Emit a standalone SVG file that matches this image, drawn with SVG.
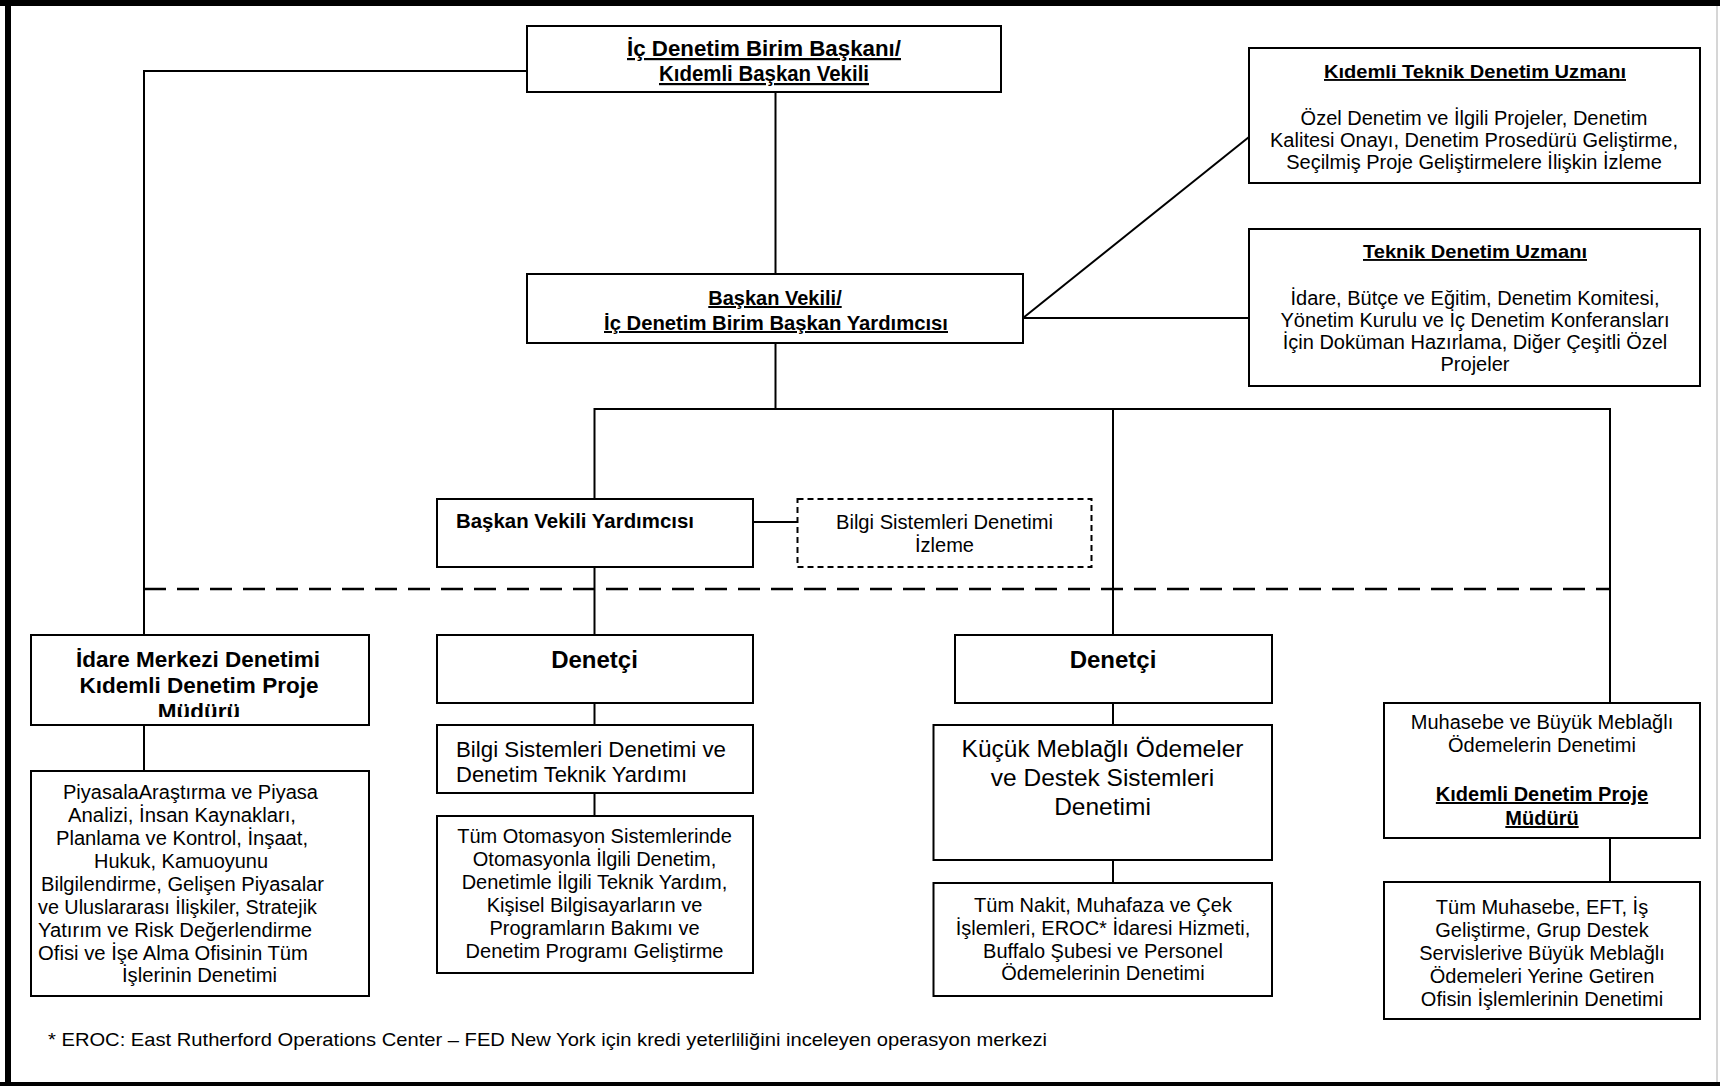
<svg xmlns="http://www.w3.org/2000/svg" width="1720" height="1086" viewBox="0 0 1720 1086">
  <style>
    .box { fill: #fff; stroke: #000; stroke-width: 2; }
    .dbox { fill: #fff; stroke: #000; stroke-width: 2; stroke-dasharray: 6 4; }
    .ln { fill: none; stroke: #000; stroke-width: 2; }
    .dash { fill: none; stroke: #000; stroke-width: 2.5; stroke-dasharray: 22 11; }
    text { fill: #000; font-size: 20px; }
    .r { font-family: "Liberation Sans", Arial, sans-serif; }
    .b { font-family: "Liberation Sans", Arial, sans-serif; font-weight: bold; }
    .nb { font-family: "Liberation Sans Narrow", "Liberation Sans", Arial, sans-serif; font-weight: bold; }
    .nr { font-family: "Liberation Sans Narrow", "Liberation Sans", Arial, sans-serif; }
    .c { text-anchor: middle; }
    .u { text-decoration: underline; }
  </style>
  <defs>
    <clipPath id="clipIdare">
      <rect x="31" y="636" width="338" height="81"/>
    </clipPath>
  </defs>

  <rect width="1720" height="1086" fill="#fff"/>
  <!-- page frame -->
  <g id="frame">
    <rect x="0" y="0" width="1720" height="6" fill="#000"/>
    <rect x="5" y="0" width="6" height="1086" fill="#000"/>
    <rect x="0" y="1082" width="1720" height="4" fill="#000"/>
    <line x1="1717" y1="6" x2="1717" y2="1082" stroke="#c8c8c8" stroke-width="1.5"/>
  </g>

  <!-- connectors -->
  <g id="connectors">
    <path class="ln" d="M527 71 H144 V635"/>
    <path class="ln" d="M775.5 92 V274"/>
    <path class="ln" d="M775.5 343 V409"/>
    <path class="ln" d="M594.5 499 V409 H1610 V703"/>
    <path class="ln" d="M1113 409 V635"/>
    <path class="ln" d="M1023 318 L1249 137"/>
    <path class="ln" d="M1023 318 H1249"/>
    <path class="ln" d="M753 522 H797.5"/>
    <path class="ln" d="M594.5 567 V635"/>
    <path class="ln" d="M594.5 703 V725"/>
    <path class="ln" d="M594.5 793 V816"/>
    <path class="ln" d="M1113 703 V725"/>
    <path class="ln" d="M1113 860 V883"/>
    <path class="ln" d="M144 725 V771"/>
    <path class="ln" d="M1610 838 V882"/>
    <path class="dash" d="M144 589 H1610"/>
  </g>

  <!-- head of unit -->
  <g id="head">
    <rect class="box" x="527" y="26" width="474" height="66"/>
    <text class="nb c u" x="764" y="56" style="font-size:22px" textLength="274" lengthAdjust="spacingAndGlyphs">İç Denetim Birim Başkanı/</text>
    <text class="nb c u" x="764" y="81" style="font-size:22px" textLength="210" lengthAdjust="spacingAndGlyphs">Kıdemli Başkan Vekili</text>
  </g>

  <!-- deputy head -->
  <g id="deputy">
    <rect class="box" x="527" y="274" width="496" height="69"/>
    <text class="b c u" x="775" y="305">Başkan Vekili/</text>
    <text class="b c u" x="776" y="330" textLength="344" lengthAdjust="spacingAndGlyphs">İç Denetim Birim Başkan Yardımcısı</text>
  </g>

  <!-- senior technical audit specialist -->
  <g id="senior-tech">
    <rect class="box" x="1249" y="48" width="451" height="135"/>
    <text class="b c u" x="1475" y="78" style="font-size:19px" textLength="302" lengthAdjust="spacingAndGlyphs">Kıdemli Teknik Denetim Uzmanı</text>
    <text class="r c" x="1474" y="125">Özel Denetim ve İlgili Projeler, Denetim</text>
    <text class="r c" x="1474" y="147">Kalitesi Onayı, Denetim Prosedürü Geliştirme,</text>
    <text class="r c" x="1474" y="169">Seçilmiş Proje Geliştirmelere İlişkin İzleme</text>
  </g>

  <!-- technical audit specialist -->
  <g id="tech">
    <rect class="box" x="1249" y="229" width="451" height="157"/>
    <text class="b c u" x="1475" y="258" style="font-size:19px" textLength="224" lengthAdjust="spacingAndGlyphs">Teknik Denetim Uzmanı</text>
    <text class="r c" x="1475" y="305">İdare, Bütçe ve Eğitim, Denetim Komitesi,</text>
    <text class="r c" x="1475" y="327">Yönetim Kurulu ve İç Denetim Konferansları</text>
    <text class="r c" x="1475" y="349">İçin Doküman Hazırlama, Diğer Çeşitli Özel</text>
    <text class="r c" x="1475" y="371">Projeler</text>
  </g>

  <!-- assistant deputy -->
  <g id="assistant-deputy">
    <rect class="box" x="437" y="499" width="316" height="68"/>
    <text class="nb" x="456" y="528" textLength="238" lengthAdjust="spacingAndGlyphs">Başkan Vekili Yardımcısı</text>
  </g>

  <!-- IS audit monitoring (dashed) -->
  <g id="is-monitoring">
    <rect class="dbox" x="797.5" y="499" width="294" height="68"/>
    <text class="nr c" x="944.5" y="529" textLength="217" lengthAdjust="spacingAndGlyphs">Bilgi Sistemleri Denetimi</text>
    <text class="nr c" x="944.5" y="552" textLength="59" lengthAdjust="spacingAndGlyphs">İzleme</text>
  </g>

  <!-- head office audit manager -->
  <g id="admin-manager">
    <rect class="box" x="31" y="635" width="338" height="90"/>
    <g clip-path="url(#clipIdare)" style="font-size:22.5px">
      <text class="b c" x="198" y="667" style="font-size:22.5px">İdare Merkezi Denetimi</text>
      <text class="b c" x="199" y="693" style="font-size:22.5px">Kıdemli Denetim Proje</text>
      <text class="b c" x="199" y="719" style="font-size:22.5px">Müdürü</text>
    </g>
  </g>

  <g id="admin-scope">
    <rect class="box" x="31" y="771" width="338" height="225"/>
    <text class="r" x="63" y="799" textLength="255" lengthAdjust="spacingAndGlyphs">PiyasalaAraştırma ve Piyasa</text>
    <text class="r" x="68" y="822" textLength="228" lengthAdjust="spacingAndGlyphs">Analizi, İnsan Kaynakları,</text>
    <text class="r" x="56" y="845" textLength="252" lengthAdjust="spacingAndGlyphs">Planlama ve Kontrol, İnşaat,</text>
    <text class="r" x="94" y="868" textLength="174" lengthAdjust="spacingAndGlyphs">Hukuk, Kamuoyunu</text>
    <text class="r" x="41" y="891" textLength="283" lengthAdjust="spacingAndGlyphs">Bilgilendirme, Gelişen Piyasalar</text>
    <text class="r" x="38" y="914" textLength="279" lengthAdjust="spacingAndGlyphs">ve Uluslararası İlişkiler, Stratejik</text>
    <text class="r" x="38" y="937" textLength="274" lengthAdjust="spacingAndGlyphs">Yatırım ve Risk Değerlendirme</text>
    <text class="r" x="38" y="960" textLength="270" lengthAdjust="spacingAndGlyphs">Ofisi ve İşe Alma Ofisinin Tüm</text>
    <text class="r" x="122" y="982" textLength="155" lengthAdjust="spacingAndGlyphs">İşlerinin Denetimi</text>
  </g>

  <!-- auditor: information systems -->
  <g id="auditor-is">
    <rect class="box" x="437" y="635" width="316" height="68"/>
    <text class="b c" x="594.5" y="668" style="font-size:24px">Denetçi</text>
  </g>
  <g id="is-audit">
    <rect class="box" x="437" y="725" width="316" height="68"/>
    <text class="r" x="456" y="757" style="font-size:22px" textLength="270" lengthAdjust="spacingAndGlyphs">Bilgi Sistemleri Denetimi ve</text>
    <text class="r" x="456" y="782" style="font-size:22px">Denetim Teknik Yardımı</text>
  </g>
  <g id="is-scope">
    <rect class="box" x="437" y="816" width="316" height="157"/>
    <text class="r c" x="594.5" y="843">Tüm Otomasyon Sistemlerinde</text>
    <text class="r c" x="594.5" y="866">Otomasyonla İlgili Denetim,</text>
    <text class="r c" x="594.5" y="889">Denetimle İlgili Teknik Yardım,</text>
    <text class="r c" x="594.5" y="912">Kişisel Bilgisayarların ve</text>
    <text class="r c" x="594.5" y="935">Programların Bakımı ve</text>
    <text class="r c" x="594.5" y="958">Denetim Programı Geliştirme</text>
  </g>

  <!-- auditor: small payments -->
  <g id="auditor-payments">
    <rect class="box" x="955" y="635" width="317" height="68"/>
    <text class="b c" x="1113" y="668" style="font-size:24px">Denetçi</text>
  </g>
  <g id="small-payments">
    <rect class="box" x="933.5" y="725" width="338.5" height="135"/>
    <text class="r c" x="1102.5" y="757" style="font-size:24.5px">Küçük Meblağlı Ödemeler</text>
    <text class="r c" x="1102.5" y="786" style="font-size:24.5px">ve Destek Sistemleri</text>
    <text class="r c" x="1102.5" y="815" style="font-size:24.5px">Denetimi</text>
  </g>
  <g id="payments-scope">
    <rect class="box" x="933.5" y="883" width="338.5" height="113"/>
    <text class="r c" x="1103" y="912">Tüm Nakit, Muhafaza ve Çek</text>
    <text class="r c" x="1103" y="935">İşlemleri, EROC* İdaresi Hizmeti,</text>
    <text class="r c" x="1103" y="958">Buffalo Şubesi ve Personel</text>
    <text class="r c" x="1103" y="980">Ödemelerinin Denetimi</text>
  </g>

  <!-- accounting and large payments -->
  <g id="accounting">
    <rect class="box" x="1384" y="703" width="316" height="135"/>
    <text class="r c" x="1542" y="729">Muhasebe ve Büyük Meblağlı</text>
    <text class="r c" x="1542" y="752">Ödemelerin Denetimi</text>
    <text class="b c u" x="1542" y="801">Kıdemli Denetim Proje</text>
    <text class="b c u" x="1542" y="825">Müdürü</text>
  </g>
  <g id="accounting-scope">
    <rect class="box" x="1384" y="882" width="316" height="137"/>
    <text class="r c" x="1542" y="914">Tüm Muhasebe, EFT, İş</text>
    <text class="r c" x="1542" y="937">Geliştirme, Grup Destek</text>
    <text class="r c" x="1542" y="960">Servislerive Büyük Meblağlı</text>
    <text class="r c" x="1542" y="983">Ödemeleri Yerine Getiren</text>
    <text class="r c" x="1542" y="1006">Ofisin İşlemlerinin Denetimi</text>
  </g>

  <!-- footnote -->
  <text class="nr" x="48" y="1046" style="font-size:19px" textLength="999" lengthAdjust="spacingAndGlyphs">* EROC: East Rutherford Operations Center – FED New York için kredi yeterliliğini inceleyen operasyon merkezi</text>
</svg>
